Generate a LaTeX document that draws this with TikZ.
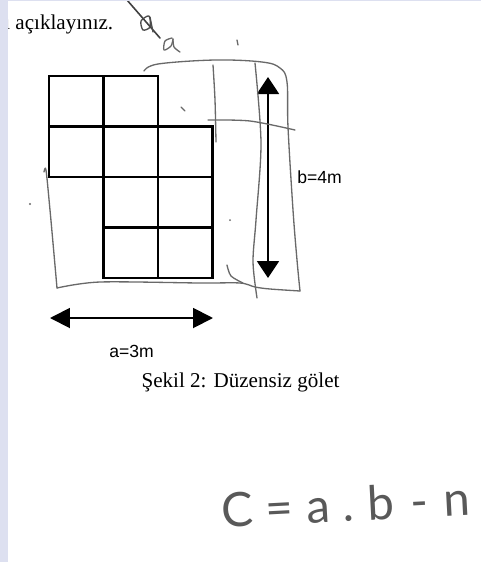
\documentclass[tikz,border=0pt]{standalone}
\usepackage{fontspec}
\setmainfont{Liberation Serif}
\newfontfamily\labelfont{Liberation Sans}
\newfontfamily\handfont{Lato}
\usetikzlibrary{arrows.meta}
\definecolor{pagestrip}{RGB}{221,224,240}
\definecolor{pencil}{RGB}{105,105,105}

\begin{document}
\begin{tikzpicture}[x=0.02cm, y=-0.02cm,
  cell/.style={draw, rectangle, line width=1.2pt, minimum width=1.09cm, minimum height=1.01cm, inner sep=0pt, outer sep=0pt},
  pencilline/.style={draw=pencil, line width=0.75pt, line cap=round, line join=round},
  dimlabel/.style={anchor=base west, inner sep=0pt, font=\labelfont\fontsize{10}{12}\selectfont}]
  \useasboundingbox[fill=white] (0,0) rectangle (481,562);

  \node[anchor=base west, inner sep=0pt, font=\fontsize{12}{14}\selectfont] (intro) at (4,29) {ı açıklayınız.};

  % grid of the pond
  \node[cell] (sq00) at (76.25,101.25) {};
  \node[cell] (sq01) at (130.75,101.25) {};
  \node[cell] (sq10) at (76.25,151.75) {};
  \node[cell] (sq11) at (130.75,151.75) {};
  \node[cell] (sq12) at (185.25,151.75) {};
  \node[cell] (sq21) at (130.75,202.25) {};
  \node[cell] (sq22) at (185.25,202.25) {};
  \node[cell] (sq31) at (130.75,252.75) {};
  \node[cell] (sq32) at (185.25,252.75) {};

  \coordinate (btop) at (268,77);
  \coordinate (bbot) at (268,278);
  \coordinate (aleft) at (50,318);
  \coordinate (aright) at (213,318);

  \path[line width=1.1pt, {Triangle[length=0.34cm,width=0.44cm]}-{Triangle[length=0.34cm,width=0.44cm]}] (btop) edge (bbot);
  \path[line width=1.1pt, {Triangle[length=0.40cm,width=0.40cm]}-{Triangle[length=0.40cm,width=0.40cm]}] (aleft) edge (aright);

  \node[dimlabel] (blabel) at (297,183) {b=4m};
  \node[dimlabel] (alabel) at (109,357) {a=3m};
  \node[anchor=base, inner sep=0pt, font=\fontsize{12}{14}\selectfont] (caption) at (240.5,387) {Şekil 2: Düzensiz gölet};

  % pencil marks
  \draw[pencilline, draw=black!75, line width=0.9pt] (127,0) -- (160,38);
  \draw[pencilline, draw=black!70] plot[smooth cycle] coordinates {(149,16) (141,21) (143,30) (150,27)};
  \draw[pencilline, draw=black!70] (150,17) -- (153,32);
  \draw[pencilline] plot[smooth] coordinates {(172,38) (165,41) (164,50) (171,46) (173,39)};
  \draw[pencilline] plot[smooth] coordinates {(173,39) (174,47) (180,52)};

  \draw[pencilline] plot[smooth, tension=0.6] coordinates {(144,71) (158,64) (215,60) (262,62) (280,68) (287,82) (288,127) (293,210) (297,260) (300,291)};
  \draw[pencilline] plot[smooth] coordinates {(300,291) (270,289) (255,287) (240,283) (200,283) (100,282) (57,288)};
  \draw[pencilline] plot[smooth] coordinates {(57,288) (53,243) (50,210) (46,170) (44,172)};
  \draw[pencilline] plot[smooth] coordinates {(213,65) (215,100) (216,142)};
  \draw[pencilline] plot[smooth] coordinates {(255,63) (261,143) (256,220) (253,262) (257,298)};
  \draw[pencilline] plot[smooth] coordinates {(208,120) (250,121) (295,130)};
  \draw[pencilline] plot[smooth] coordinates {(227,265) (231,276) (243,283)};
  \draw[pencilline] (181,107) -- (185,111);
  \draw[pencilline] (237,40) -- (238,45);
  \fill[pencil] (30,204) circle (1.2);
  \fill[pencil] (230,220) circle (1);

  \node[anchor=base west, inner sep=0pt, text=black!65, rotate=3, font=\handfont\fontsize{27}{30}\selectfont] (formula) at (222,528) {C\kern7pt=\kern8pt a\kern7pt.\kern8pt b\kern9pt-\kern9pt n};

  \fill[pagestrip] (0,0) rectangle (8,562);
  \fill[pagestrip] (0,0) rectangle (481,1.2);
\end{tikzpicture}
\end{document}
